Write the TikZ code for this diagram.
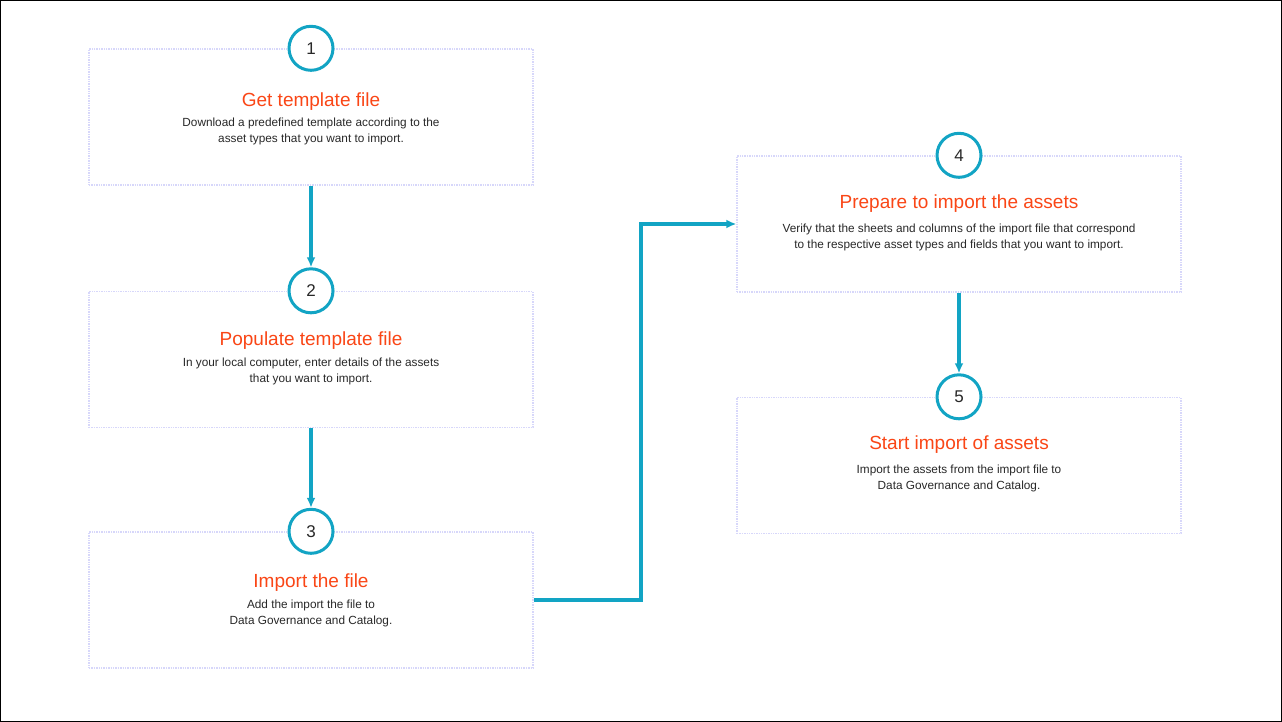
\documentclass[tikz,border=0pt]{standalone}
\usepackage{fontspec}
\setmainfont{Liberation Sans}
\usetikzlibrary{arrows.meta}
\definecolor{teal}{RGB}{18,164,196}
\definecolor{orng}{RGB}{250,70,22}
\definecolor{lav}{RGB}{215,215,250}
\definecolor{txt}{RGB}{40,40,40}
\begin{document}
\begin{tikzpicture}[x=1pt,y=-1pt,
 stepbox/.style={draw=lav,densely dotted,line width=1.4pt,minimum width=444pt,minimum height=136pt,fill=white},
 num/.style={circle,draw=teal,line width=3pt,fill=white,minimum size=44pt,inner sep=0pt,font=\fontsize{17}{17}\selectfont,text=txt},
 ttl/.style={text=orng,font=\fontsize{19}{20}\selectfont},
 body/.style={text=txt,align=center,font=\fontsize{11.8}{16}\selectfont},
 conn/.style={draw=teal,line width=3.2pt,-{Latex[length=10pt,width=9pt]}}]
\draw[black,line width=1pt] (0.5,0.5) rectangle (1281.5,721.5);
\node[stepbox] (b1) at (311,117) {};
\node[stepbox] (b2) at (311,359.5) {};
\node[stepbox] (b3) at (311,600) {};
\node[stepbox] (b4) at (959,224) {};
\node[stepbox] (b5) at (959,465.5) {};
\node[num] (c1) at (b1.north) {1};
\node[num] (c2) at (b2.north) {2};
\node[num] (c3) at (b3.north) {3};
\node[num] (c4) at (b4.north) {4};
\node[num] (c5) at (b5.north) {5};
\node[ttl] (t1) at (311,102) {Get template file};
\node[body] (d1) at (311,131) {Download a predefined template according to the\\asset types that you want to import.};
\node[ttl] (t2) at (311,341) {Populate template file};
\node[body] (d2) at (311,371) {In your local computer, enter details of the assets\\that you want to import.};
\node[ttl] (t3) at (311,583) {Import the file};
\node[body] (d3) at (311,613) {Add the import the file to\\Data Governance and Catalog.};
\node[ttl] (t4) at (959,204) {Prepare to import the assets};
\node[body] (d4) at (959,237) {Verify that the sheets and columns of the import file that correspond\\to the respective asset types and fields that you want to import.};
\node[ttl] (t5) at (959,445) {Start import of assets};
\node[body] (d5) at (959,478) {Import the assets from the import file to\\Data Governance and Catalog.};
\draw[conn] (b1.south) -- (c2.north);
\draw[conn] (b2.south) -- (c3.north);
\draw[conn] (b4.south) -- (c5.north);
\coordinate (k1) at (641,600);
\coordinate (k2) at (641,224);
\draw[conn] (b3.east) -- (k1) -- (k2) -- (b4.west);
\end{tikzpicture}
\end{document}
